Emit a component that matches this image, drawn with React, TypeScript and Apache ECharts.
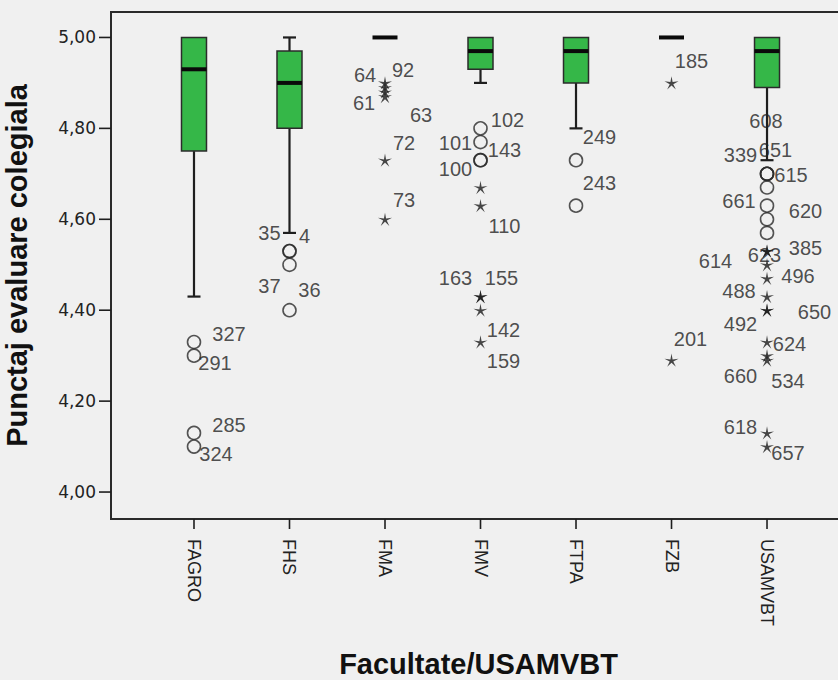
import React, { useEffect, useRef } from 'react';
import * as echarts from 'echarts';

// ---------- data ----------
const categories = ['FAGRO', 'FHS', 'FMA', 'FMV', 'FTPA', 'FZB', 'USAMVBT'];
const whiskerLow = [4.43, 4.57, 5.0, 4.9, 4.8, 5.0, 4.73];
const q1 = [4.75, 4.8, 5.0, 4.93, 4.9, 5.0, 4.89];
const median = [4.93, 4.9, 5.0, 4.97, 4.97, 5.0, 4.97];
const q3 = [5.0, 4.97, 5.0, 5.0, 5.0, 5.0, 5.0];
const whiskerHigh = [5.0, 5.0, 5.0, 5.0, 5.0, 5.0, 5.0];
const yTicks = [4.0, 4.2, 4.4, 4.6, 4.8, 5.0];
const xTicks = [0, 1, 2, 3, 4, 5, 6];

// outliers: [category index, value, case id]
const mildOutliers: [number, number, string][] = [
  [0, 4.33, '327'], [0, 4.3, '291'], [0, 4.13, '285'], [0, 4.1, '324'],
  [1, 4.53, '35'], [1, 4.53, '4'], [1, 4.5, '37'], [1, 4.4, '36'],
  [3, 4.8, '102'], [3, 4.77, '101'], [3, 4.73, '143'], [3, 4.73, '100'],
  [4, 4.73, '249'], [4, 4.63, '243'],
  [6, 4.7, '608'], [6, 4.7, '339'], [6, 4.7, '651'], [6, 4.67, '615'],
  [6, 4.63, '661'], [6, 4.6, '620'], [6, 4.57, ''],
];
const extremeOutliers: [number, number, string][] = [
  [2, 4.9, '64'], [2, 4.89, '92'], [2, 4.88, '63'], [2, 4.87, '61'], [2, 4.73, '72'], [2, 4.6, '73'],
  [3, 4.67, ''], [3, 4.63, '110'], [3, 4.43, '163'], [3, 4.43, '155'], [3, 4.4, '142'], [3, 4.33, '159'],
  [5, 4.9, '185'], [5, 4.29, '201'],
  [6, 4.53, '623'], [6, 4.53, '385'], [6, 4.5, '614'], [6, 4.47, '496'], [6, 4.43, '488'],
  [6, 4.4, '650'], [6, 4.4, '492'], [6, 4.33, '624'], [6, 4.3, '660'], [6, 4.29, '534'],
  [6, 4.13, '618'], [6, 4.1, '657'],
];

// ---------- layout (label placement, px offsets from marker) ----------
const labelOffsets: Record<string, [number, number]> = {
  '327': [35, -8], '291': [21, 7], '285': [35, -8], '324': [22, 7.5],
  '35': [-20, -18], '4': [15, -15], '37': [-20, 21], '36': [20, -20],
  '64': [-20, -7.5], '92': [18, -17.5], '63': [36, 23], '61': [-21, 6], '72': [19, -17.5], '73': [19, -19],
  '102': [27, -8.5], '101': [-25, 1], '143': [24, -10.5], '100': [-25, 8.5], '110': [24, 20],
  '163': [-25, -19], '155': [21, -19], '142': [23, 19.5], '159': [23, 18.5],
  '249': [23.5, -23], '243': [23.5, -23],
  '185': [20, -22], '201': [19, -21],
  '608': [-1, -53], '339': [-26.5, -18.5], '651': [8.5, -24], '615': [24, -12], '661': [-28, -5], '620': [38.5, -8.5],
  '623': [-2.5, 4], '385': [38.5, -3.4], '614': [-51.5, -4], '496': [31, -2], '488': [-28, -6],
  '650': [47.5, 1.5], '492': [-26.5, 13.8], '624': [22.5, 2], '660': [-26.5, 20.5], '534': [21, 21],
  '618': [-26.5, -6], '657': [21, 6],
};

const STAR =
  'path://M0,-10L1.5,-2.06L9.511,-3.09L2.43,0.79L5.878,8.09L0,2.55L-5.878,8.09L-2.43,0.79L-9.511,-3.09L-1.5,-2.06Z';

const GREEN = '#35b748';
const INK = '#1e1e1e';
const FRAME = '#2a2a2a';
const BG = '#f0f0f0';
const X_MIN = -0.869;
const X_MAX = 6.827;
const Y_MIN = 3.9407;
const Y_MAX = 5.056;

function outlierData(list: [number, number, string][]) {
  return list.map(([i, v, id]) => ({
    value: [i, v],
    label: id
      ? {
          show: true,
          formatter: id,
          position: 'inside',
          offset: labelOffsets[id] || [20, -10],
        }
      : { show: false },
  }));
}

export default function App() {
  const ref = useRef<HTMLDivElement>(null);
  useEffect(() => {
    if (!ref.current) return;
    const chart = echarts.init(ref.current, undefined, { renderer: 'svg' });
    const boxData = categories.map((_, i) => [i, whiskerLow[i], q1[i], median[i], q3[i], whiskerHigh[i]]);
    const labelStyle = {
      fontFamily: 'Liberation Sans',
      fontSize: 20,
      color: '#222',
    };
    chart.setOption({
      animation: false,
      backgroundColor: BG,
      grid: {
        left: 111,
        top: 12,
        width: 735,
        height: 507,
        containLabel: false,
        outerBoundsMode: 'none',
        show: true,
        backgroundColor: BG,
        borderColor: FRAME,
        borderWidth: 2,
      },
      xAxis: {
        type: 'value',
        min: X_MIN,
        max: X_MAX,
        splitLine: { show: false },
        axisLine: { show: true, onZero: false, lineStyle: { color: FRAME, width: 2 } },
        axisTick: { show: false },
        axisLabel: {
          customValues: xTicks,
          formatter: (v: number) => categories[Math.round(v)] ?? '',
          rotate: -90,
          margin: 20,
          fontFamily: 'Liberation Sans',
          fontSize: 18,
          color: '#222',
        },
        name: 'Facultate/USAMVBT',
        nameLocation: 'middle',
        nameGap: 130,
        nameTextStyle: {
          fontFamily: 'Liberation Sans',
          fontWeight: 'bold',
          fontSize: 29,
          color: '#111',
        },
      },
      yAxis: {
        type: 'value',
        min: Y_MIN,
        max: Y_MAX,
        splitLine: { show: false },
        axisLine: { show: true, onZero: false, lineStyle: { color: FRAME, width: 2 } },
        axisTick: { show: false },
        axisLabel: {
          customValues: yTicks,
          formatter: (v: number) => v.toFixed(2).replace('.', ','),
          margin: 15,
          fontFamily: 'DejaVu Sans',
          fontSize: 17,
          color: '#222',
        },
        name: 'Punctaj evaluare colegiala',
        nameLocation: 'middle',
        nameGap: 80,
        nameRotate: 90,
        nameTextStyle: {
          fontFamily: 'Liberation Sans',
          fontWeight: 'bold',
          fontSize: 29,
          color: '#111',
        },
      },
      series: [
        {
          type: 'custom',
          data: boxData,
          encode: { x: 0, y: [1, 2, 3, 4, 5] },
          renderItem: (params: any, api: any) => {
            const i = api.value(0);
            const x = api.coord([i, 0])[0];
            const yWL = api.coord([i, api.value(1)])[1];
            const yQ1 = api.coord([i, api.value(2)])[1];
            const yMed = api.coord([i, api.value(3)])[1];
            const yQ3 = api.coord([i, api.value(4)])[1];
            const yWH = api.coord([i, api.value(5)])[1];
            const hw = 12.5;
            const cw = 6.5;
            const wStyle = { stroke: INK, lineWidth: 2.2 };
            const children: any[] = [];
            if (yWL - yQ1 > 0.5) {
              children.push({ type: 'line', shape: { x1: x, y1: yQ1, x2: x, y2: yWL }, style: wStyle });
              children.push({ type: 'line', shape: { x1: x - cw, y1: yWL, x2: x + cw, y2: yWL }, style: wStyle });
            }
            if (yQ3 - yWH > 0.5) {
              children.push({ type: 'line', shape: { x1: x, y1: yWH, x2: x, y2: yQ3 }, style: wStyle });
              children.push({ type: 'line', shape: { x1: x - cw, y1: yWH, x2: x + cw, y2: yWH }, style: wStyle });
            }
            if (yQ1 - yQ3 > 0.5) {
              children.push({
                type: 'rect',
                shape: { x: x - hw, y: yQ3, width: hw * 2, height: yQ1 - yQ3 },
                style: { fill: GREEN, stroke: '#2b2b2b', lineWidth: 1.5 },
              });
            }
            children.push({
              type: 'line',
              shape: { x1: x - hw, y1: yMed, x2: x + hw, y2: yMed },
              style: { stroke: '#0a0a0a', lineWidth: 4 },
            });
            return { type: 'group', children };
          },
          z: 2,
        },
        {
          type: 'scatter',
          data: outlierData(mildOutliers),
          symbol: 'circle',
          symbolSize: 13,
          itemStyle: { color: 'rgba(0,0,0,0)', borderColor: '#2a2a2a', borderWidth: 1.6 },
          label: labelStyle,
          z: 3,
        },
        {
          type: 'scatter',
          data: outlierData(extremeOutliers),
          symbol: STAR,
          symbolSize: 14,
          symbolKeepAspect: true,
          itemStyle: { color: '#1a1a1a' },
          label: labelStyle,
          z: 3,
        },
      ],
    });

    // outward tick marks, placed through the axes' own scales
    const toPx = (x: number, y: number) =>
      chart.convertToPixel({ xAxisIndex: 0, yAxisIndex: 0 }, [x, y]) as number[];
    const tickEls: any[] = [];
    yTicks.forEach((v) => {
      const p = toPx(X_MIN, v);
      tickEls.push({
        type: 'line',
        shape: { x1: p[0] - 12, y1: p[1], x2: p[0], y2: p[1] },
        style: { stroke: INK, lineWidth: 1.6 },
        z: 10,
        silent: true,
      });
    });
    xTicks.forEach((i) => {
      const p = toPx(i, Y_MIN);
      tickEls.push({
        type: 'line',
        shape: { x1: p[0], y1: p[1], x2: p[0], y2: p[1] + 10 },
        style: { stroke: INK, lineWidth: 1.6 },
        z: 10,
        silent: true,
      });
    });
    chart.setOption({ graphic: tickEls });

    return () => chart.dispose();
  }, []);
  return (
    <div
      ref={ref}
      style={{ position: 'absolute', left: 0, top: 0, width: 838, height: 680, background: BG }}
    />
  );
}
